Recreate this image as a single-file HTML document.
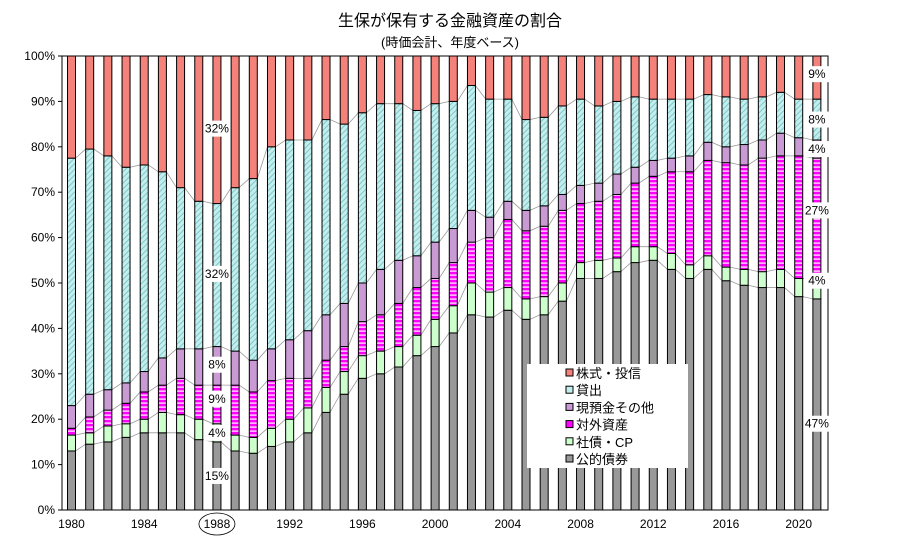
<!DOCTYPE html>
<html><head><meta charset="utf-8"><style>
body{margin:0;background:#fff;width:900px;height:548px;overflow:hidden}
svg text{font-family:"Liberation Sans","Noto Sans CJK JP",sans-serif}
</style></head><body>
<svg id="s" width="900" height="548" xmlns="http://www.w3.org/2000/svg">
<defs>
<pattern id="hat" width="4" height="4" patternUnits="userSpaceOnUse" patternTransform="rotate(45)">
<rect width="4" height="4" fill="#c4eeee"/><rect width="1" height="4" fill="#7cc8c8"/></pattern>
<pattern id="str" width="4" height="4" patternUnits="userSpaceOnUse">
<rect width="4" height="4" fill="#ff00ff"/><rect y="2.5" width="4" height="1.2" fill="#fff"/></pattern>
</defs>
<text x="450" y="26" font-size="16" text-anchor="middle">生保が保有する金融資産の割合</text>
<text x="450" y="47" font-size="13" text-anchor="middle">(時価会計、年度ベース)</text>
<g id="g"></g>
</svg>
<script>
var d=[[13,16.5,18,23,77.5],[14.5,17,20.5,25.5,79.5],[15,18.5,22,26.5,78],[16,19,23.5,28,75.5],[17,20,26,30.5,76],[17,21.5,27.5,33.5,74.5],[17,21,29,35.5,71],[15.5,20,27.5,35.5,68],[15,19,27.5,36,67.5],[13,16.5,27.5,35,71],[12.5,16,26,33,73],[14,18,28.5,35.5,80],[15,20,29,37.5,81.5],[17,22.5,29,39.5,81.5],[21.5,27,33,43,86],[25.5,30.5,36,45.5,85],[29,34,41.5,50,87.5],[30,35,43,53,89.5],[31.5,36,45.5,55,89.5],[34,38.5,49,56,88],[36,42,51,59,89.5],[39,45,54.5,62,90],[43,50,59,66,93.5],[42.5,48,60,64.5,90.5],[44,49,64,68,90.5],[42,46.5,61.5,66,86],[43,47,62.5,67,86.5],[46,50,66,69.5,89],[51,54.5,67.5,71.5,90.5],[51,55,68,72,89],[52.5,55.5,69.5,74,90],[54.5,58,72,75.5,91],[55,58,73.5,77,90.5],[53,56.5,74.5,77.5,90.5],[51,54,74.5,78,90.5],[53,56,77,81,91.5],[50.5,53.5,76.5,80,91],[49.5,53,76,80.5,90.5],[49,52.5,77.5,81.5,91],[49,53,78,83,92],[47,51,78,82,90.5],[46.5,50.5,77.5,81.5,90.5]];
var fills=["#999999","#ccffcc","url(#str)","#c99ad4","url(#hat)","#f5817b"];
var X0=62,X1=828,Y0=510,Y1=56,k=(Y0-Y1)/100,bw=8;
function y(v){return Y0-v*k}
var h='<rect x="'+X0+'" y="'+Y1+'" width="'+(X1-X0)+'" height="'+(Y0-Y1)+'" fill="#fff" stroke="#000" stroke-width="1"/>';
for(var i=0;i<=10;i++){var yy=y(i*10);h+='<line x1="'+(X0-4)+'" x2="'+X0+'" y1="'+yy+'" y2="'+yy+'" stroke="#000"/>';h+='<text x="'+(X0-7)+'" y="'+(yy+4)+'" font-size="12" text-anchor="end">'+(i*10)+'%</text>';}
function cx(i){return 71.5+18.18*i}
for(var s=0;s<5;s++){var p='';for(var i=0;i<d.length;i++){p+=(i?'L':'M')+(cx(i)-bw/2)+' '+y(d[i][s])+'L'+(cx(i)+bw/2)+' '+y(d[i][s]);}h+='<path d="'+p+'" fill="none" stroke="#999" stroke-width="0.8"/>';}
for(var i=0;i<d.length;i++){var v=[0].concat(d[i]).concat([100]);for(var s=0;s<6;s++){h+='<rect x="'+(cx(i)-bw/2)+'" y="'+y(v[s+1])+'" width="'+bw+'" height="'+(y(v[s])-y(v[s+1]))+'" fill="'+fills[s]+'" stroke="#000" stroke-width="1"/>';}}
for(var yr=1980;yr<=2020;yr+=4){var i=yr-1980;h+='<text x="'+cx(i)+'" y="528" font-size="12" text-anchor="middle">'+yr+'</text>';}
h+='<ellipse cx="'+cx(8)+'" cy="524" rx="18" ry="11" fill="none" stroke="#000" stroke-width="0.8"/>';
function lab(x,v,t){h+='<rect x="'+(x-13)+'" y="'+(y(v)-8)+'" width="26" height="16" fill="#fff"/><text x="'+x+'" y="'+(y(v)+4)+'" font-size="12" text-anchor="middle">'+t+'</text>';}
lab(cx(8),84,'32%');lab(cx(8),52,'32%');lab(cx(8),32,'8%');lab(cx(8),24.5,'9%');lab(cx(8),17,'4%');lab(cx(8),7.5,'15%');
var L=cx(41);lab(L,96,'9%');lab(L,86,'8%');lab(L,79.5,'4%');lab(L,66,'27%');lab(L,50.5,'4%');lab(L,19,'47%');
h+='<rect x="527" y="364" width="161" height="104" fill="#fff"/>';
var ln=["株式・投信","貸出","現預金その他","対外資産","社債・CP","公的債券"],lf=["#f5817b","#c4eeee","#c99ad4","#ff00ff","#ccffcc","#999999"];
for(var j=0;j<6;j++){var yy=373+j*17.2;h+='<rect x="566" y="'+(yy-4)+'" width="7" height="7" fill="'+lf[j]+'" stroke="#000" stroke-width="1"/><text x="576" y="'+(yy+5)+'" font-size="13">'+ln[j]+'</text>';}
document.getElementById('g').innerHTML=h;
</script>
</body></html>
